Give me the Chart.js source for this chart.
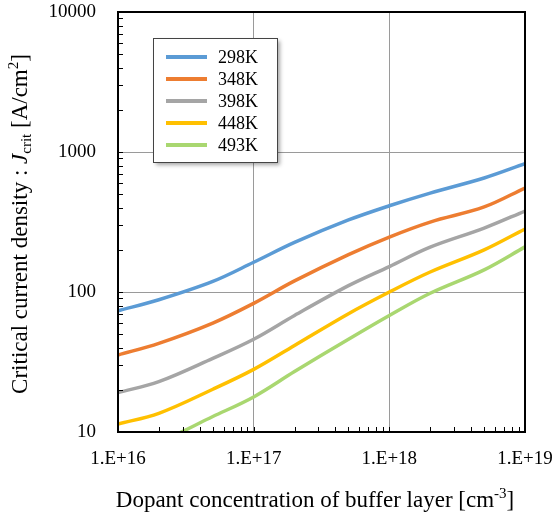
<!DOCTYPE html>
<html>
<head>
<meta charset="utf-8">
<script src="https://cdn.jsdelivr.net/npm/chart.js@4.4.1/dist/chart.umd.min.js"></script>
<style>
  html, body { margin: 0; padding: 0; background: #fff; }
  #wrap { width: 555px; height: 521px; position: relative; }
</style>
</head>
<body>
<div id="wrap"><canvas id="chart" width="555" height="521"></canvas></div>
<script>
// -------------------------
// Data
// -------------------------
const concentrations = [1e16, 2e16, 5e16, 1e17, 2e17, 5e17, 1e18, 2e18, 5e18, 1e19];
const seriesLabels = ["298K", "348K", "398K", "448K", "493K"];
const jc298 = [73.5, 88, 119, 163, 226, 327, 413, 509, 652, 825];
const jc348 = [35.5, 43, 60, 83, 120, 185, 247, 316, 405, 553];
const jc398 = [19.1, 22.9, 33.6, 46, 68, 111, 152, 209, 286, 379];
const jc448 = [11.4, 13.6, 20.2, 28, 41.5, 70, 100, 139, 200, 282];
const jc493 = [7.2, 8.5, 12.9, 17.8, 27, 46, 68, 98, 144, 210];
const seriesColors = ["#5B9BD5", "#ED7D31", "#A5A5A5", "#FFC000", "#A9D770"];

const xTickValues = [];
for (let e = 16; e <= 18; e++) for (let m = 1; m <= 9; m++) xTickValues.push(m * Math.pow(10, e));
xTickValues.push(1e19);
const yTickValues = [];
for (let e = 1; e <= 3; e++) for (let m = 1; m <= 9; m++) yTickValues.push(m * Math.pow(10, e));
yTickValues.push(10000);

const FONT = "'Liberation Serif', 'Times New Roman', serif";

// -------------------------
// Helpers
// -------------------------
function isMajor(v) {
  const l = Math.log10(v);
  return Math.abs(l - Math.round(l)) < 1e-9;
}

function toPoints(values) {
  return values.map((v, i) => ({ x: concentrations[i], y: v }));
}

// draws runs of text with different fonts / offsets, centred on x
function drawRich(ctx, parts, x, y) {
  let total = 0;
  parts.forEach(p => { ctx.font = p.font; p.w = ctx.measureText(p.t).width; total += p.w; });
  let cx = x - total / 2;
  ctx.textAlign = 'left';
  ctx.textBaseline = 'alphabetic';
  parts.forEach(p => {
    ctx.font = p.font;
    ctx.fillText(p.t, cx, y + (p.dy || 0));
    cx += p.w;
  });
}

// keep the plot area where the reference has it (no extra room for edge labels)
function noEdgePadding(s) {
  s.paddingTop = 0;
  s.paddingBottom = 0;
  s.paddingLeft = 0;
  s.paddingRight = 0;
}

// -------------------------
// Overlay: frame, inner ticks, axis titles, legend
// -------------------------
const overlayPlugin = {
  id: 'overlay',
  afterDraw(chart) {
    const ctx = chart.ctx;
    const a = chart.chartArea;
    const xs = chart.scales.x, ys = chart.scales.y;
    ctx.save();

    // inner ticks
    ctx.strokeStyle = '#000';
    ctx.lineWidth = 1;
    ctx.beginPath();
    xTickValues.forEach(v => {
      const px = Math.round(xs.getPixelForValue(v)) + 0.5;
      ctx.moveTo(px, a.bottom);
      ctx.lineTo(px, a.bottom - 5);
    });
    yTickValues.forEach(v => {
      const py = Math.round(ys.getPixelForValue(v)) + 0.5;
      ctx.moveTo(a.left, py);
      ctx.lineTo(a.left + 5, py);
    });
    ctx.stroke();

    // frame
    ctx.lineWidth = 2;
    ctx.strokeRect(a.left, a.top, a.right - a.left, a.bottom - a.top);

    // axis titles
    ctx.fillStyle = '#000';
    drawRich(ctx, [
      { t: 'Dopant concentration of buffer layer [cm', font: `23px ${FONT}` },
      { t: '-3', font: `15px ${FONT}`, dy: -9 },
      { t: ']', font: `23px ${FONT}` }
    ], 315, 507);

    ctx.save();
    ctx.translate(27, 224);
    ctx.rotate(-Math.PI / 2);
    drawRich(ctx, [
      { t: 'Critical current density : ', font: `23px ${FONT}` },
      { t: 'J', font: `italic 23px ${FONT}` },
      { t: 'crit', font: `15px ${FONT}`, dy: 4 },
      { t: ' [A/cm', font: `23px ${FONT}` },
      { t: '2', font: `15px ${FONT}`, dy: -9 },
      { t: ']', font: `23px ${FONT}` }
    ], 0, 0);
    ctx.restore();

    // legend box
    const lx = 153, ly = 38, lw = 124, lh = 124;
    ctx.save();
    ctx.shadowColor = 'rgba(0,0,0,0.35)';
    ctx.shadowBlur = 4;
    ctx.shadowOffsetX = 3;
    ctx.shadowOffsetY = 3;
    ctx.fillStyle = '#fff';
    ctx.fillRect(lx, ly, lw, lh);
    ctx.restore();
    ctx.strokeStyle = '#444';
    ctx.lineWidth = 1;
    ctx.strokeRect(lx + 0.5, ly + 0.5, lw, lh);

    chart.data.datasets.forEach((ds, i) => {
      const yy = 57 + i * 22;
      ctx.strokeStyle = ds.borderColor;
      ctx.lineWidth = 4;
      ctx.beginPath();
      ctx.moveTo(166, yy);
      ctx.lineTo(207, yy);
      ctx.stroke();
      ctx.fillStyle = '#000';
      ctx.font = `18px ${FONT}`;
      ctx.textAlign = 'left';
      ctx.textBaseline = 'middle';
      ctx.fillText(ds.label, 218, yy + 1);
    });

    ctx.restore();
  }
};

// -------------------------
// Chart
// -------------------------
const allSeries = [jc298, jc348, jc398, jc448, jc493];

new Chart(document.getElementById('chart'), {
  type: 'line',
  data: {
    datasets: allSeries.map((vals, i) => ({
      label: seriesLabels[i],
      data: toPoints(vals),
      borderColor: seriesColors[i],
      backgroundColor: seriesColors[i],
      borderWidth: 3.5,
      pointRadius: 0,
      tension: 0.35,
      fill: false,
      clip: 0
    }))
  },
  options: {
    responsive: false,
    animation: false,
    layout: { padding: { top: 12, right: 30, left: 0, bottom: 0 } },
    plugins: {
      legend: { display: false },
      tooltip: { enabled: false }
    },
    scales: {
      x: {
        type: 'logarithmic',
        min: 1e16,
        max: 1e19,
        afterBuildTicks: (s) => { s.ticks = xTickValues.map(v => ({ value: v })); },
        afterFit: (s) => { s.height = 89; noEdgePadding(s); },
        grid: {
          drawTicks: false,
          color: (c) => (c.tick && isMajor(c.tick.value)) ? '#9a9a9a' : 'rgba(0,0,0,0)',
          lineWidth: 1
        },
        border: { display: false },
        ticks: {
          autoSkip: false,
          maxRotation: 0,
          minRotation: 0,
          padding: 16,
          color: '#000',
          font: { family: FONT, size: 19 },
          callback: (v) => isMajor(v) ? `1.E+${Math.round(Math.log10(v))}` : ''
        }
      },
      y: {
        type: 'logarithmic',
        min: 10,
        max: 10000,
        afterBuildTicks: (s) => { s.ticks = yTickValues.map(v => ({ value: v })); },
        afterFit: (s) => { s.width = 118; noEdgePadding(s); },
        grid: {
          drawTicks: false,
          color: (c) => (c.tick && isMajor(c.tick.value)) ? '#9a9a9a' : 'rgba(0,0,0,0)',
          lineWidth: 1
        },
        border: { display: false },
        ticks: {
          autoSkip: false,
          padding: 22,
          color: '#000',
          font: { family: FONT, size: 19 },
          callback: (v) => isMajor(v) ? String(Math.round(v)) : ''
        }
      }
    }
  },
  plugins: [overlayPlugin]
});
</script>
</body>
</html>
